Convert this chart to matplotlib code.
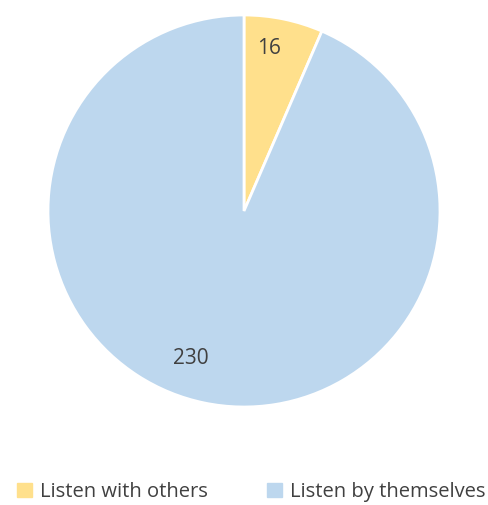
import matplotlib
matplotlib.use("Agg")
import matplotlib.pyplot as plt
import numpy as np

plt.rcParams['font.family'] = ['Open Sans', 'DejaVu Sans']

labels = ['Listen with others', 'Listen by themselves']
counts = [16, 230]
colors = ['#FFE08C', '#BDD7EE']
text_color = '#404040'

fig = plt.figure(figsize=(4.88, 5.05), dpi=100)
# axes sized so the pie sits in the upper part of the figure
ax = fig.add_axes([48 / 488, 1 - 408 / 505, 392 / 488, 394 / 505])

wedges, _ = ax.pie(counts, colors=colors, startangle=90, counterclock=False,
                   radius=1.0, wedgeprops=dict(edgecolor='white', linewidth=2))
ax.set_aspect('equal')
ax.set_xlim(-1, 1)
ax.set_ylim(-1, 1)
ax.axis('off')

# value labels placed inside each wedge
label_r = [0.84, 0.80]
label_shift = [3, -8]  # degrees, nudges the labels off the wedge midline
for w, n, r, s in zip(wedges, counts, label_r, label_shift):
    mid = np.deg2rad((w.theta1 + w.theta2) / 2 + s)
    ax.text(r * np.cos(mid), r * np.sin(mid), str(n), ha='center', va='center',
            fontsize=15, color=text_color)

# legend along the bottom
handles = [plt.Rectangle((0, 0), 1, 1, color=c) for c in colors]
fig.legend(handles, labels, loc='center', bbox_to_anchor=(0.515, 1 - 492 / 505), ncol=2,
           frameon=False, fontsize=14.5, labelcolor=text_color, handlelength=0.75,
           handleheight=0.75, handletextpad=0.4, columnspacing=2.9)

fig.savefig('out.png', dpi=100)
